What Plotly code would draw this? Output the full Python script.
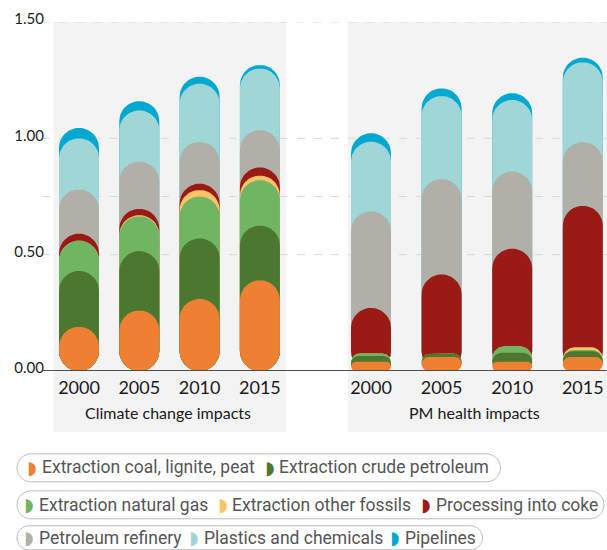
import numpy as np
import plotly.graph_objects as go

# ---------------- data ----------------
years = ["2000", "2005", "2010", "2015"]
series_names = [
    "Extraction coal, lignite, peat",
    "Extraction crude petroleum",
    "Extraction natural gas",
    "Extraction other fossils",
    "Processing into coke",
    "Petroleum refinery",
    "Plastics and chemicals",
    "Pipelines",
]
series_colors = ["#EE8033", "#4B772E", "#70B662", "#FAC466", "#9A1A16", "#B1B0A8", "#A1D6D7", "#01A9D2"]

# Climate change impacts (per-series contributions)
climate_coal = [0.19, 0.26, 0.31, 0.39]
climate_crude = [0.24, 0.255, 0.26, 0.235]
climate_gas = [0.13, 0.15, 0.18, 0.195]
climate_other = [0.0, 0.005, 0.028, 0.02]
climate_coke = [0.03, 0.027, 0.027, 0.035]
climate_refinery = [0.19, 0.203, 0.18, 0.16]
climate_plastics = [0.22, 0.22, 0.25, 0.265]
climate_pipelines = [0.045, 0.04, 0.03, 0.015]

# PM health impacts (per-series contributions)
pm_coal = [0.04, 0.06, 0.04, 0.06]
pm_crude = [0.024, 0.015, 0.038, 0.025]
pm_gas = [0.011, 0.0, 0.028, 0.005]
pm_other = [0.0, 0.0, 0.0, 0.012]
pm_coke = [0.196, 0.34, 0.42, 0.608]
pm_refinery = [0.415, 0.41, 0.332, 0.274]
pm_plastics = [0.30, 0.357, 0.307, 0.343]
pm_pipelines = [0.036, 0.033, 0.029, 0.02]

panel_titles = ["Climate change impacts", "PM health impacts"]
y_tick_values = [0, 0.5, 1.0, 1.5]
y_tick_labels = ["0.00", "0.50", "1.00", "1.50"]
grid_values = [0.5, 0.75, 1.0, 1.5]
legend_rows = [[0, 1], [2, 3, 4], [5, 6, 7]]

climate_values = [climate_coal, climate_crude, climate_gas, climate_other,
                  climate_coke, climate_refinery, climate_plastics, climate_pipelines]
pm_values = [pm_coal, pm_crude, pm_gas, pm_other,
             pm_coke, pm_refinery, pm_plastics, pm_pipelines]

# ---------------- layout geometry (pixels) ----------------
W, H = 607, 550
PLOT_TOP, PLOT_BOTTOM = 22.0, 371.5
Y_RANGE = [0, 1.5]
BAR_PX = 40.0  # bar width in pixels

panel_specs = [
    # (x axis, values, domain in px, x range)
    ("x", climate_values, (48.85, 290.05), [-0.5, 3.5]),
    ("x2", pm_values, (335.7, 607.0), [-0.5, 3.343]),
]

# legend layout: per row -> y centre, and per item -> (symbol centre x, text x) in pixels
legend_row_y = [468, 505.5, 538.5]
legend_item_x = [
    [(31, 39.5), (269, 276.5)],
    [(28, 36.5), (222.5, 230)],
    [(28.5, 36.5), (193.5, 202)],
]
legend_item_x[1].append((425, 433.5))
legend_item_x[2].append((394, 402.5))
legend_boxes = [(17, 454.5, 500.5, 482.5), (17, 491.5, 604, 519.5), (17, 526.5, 482.5, 550.5)]


def px(x):
    return x / W


def py(y):
    return (PLOT_BOTTOM - y) / (PLOT_BOTTOM - PLOT_TOP)


def pill_path(x0, y0, x1, y1):
    r = (y1 - y0) / 2.0
    k = 0.5523 * r
    ym = (y0 + y1) / 2.0

    def p(x, y):
        return f"{px(x):.5f},{py(y):.5f}"

    return (
        f"M {p(x0 + r, y0)} L {p(x1 - r, y0)} "
        f"C {p(x1 - r + k, y0)} {p(x1, ym - k)} {p(x1, ym)} "
        f"C {p(x1, ym + k)} {p(x1 - r + k, y1)} {p(x1 - r, y1)} "
        f"L {p(x0 + r, y1)} "
        f"C {p(x0 + r - k, y1)} {p(x0, ym + k)} {p(x0, ym)} "
        f"C {p(x0, ym - k)} {p(x0 + r - k, y0)} {p(x0 + r, y0)} Z"
    )


def rounded_bar_outline(xc, top, px_per_x, px_per_y, n=14):
    """Outline (data coords) of a bar from 0 to `top` with fully rounded ends."""
    half_w_px = BAR_PX / 2.0
    h_px = top * px_per_y
    r_px = min(half_w_px, h_px / 2.0)
    hw = half_w_px / px_per_x
    rx = r_px / px_per_x
    ry = r_px / px_per_y
    centers = [
        (xc + hw - rx, top - ry, 0.0),
        (xc - hw + rx, top - ry, 0.5 * np.pi),
        (xc - hw + rx, ry, np.pi),
        (xc + hw - rx, ry, 1.5 * np.pi),
    ]
    xs, ys = [], []
    for cx, cy, a0 in centers:
        t = np.linspace(a0, a0 + 0.5 * np.pi, n)
        xs.extend((cx + rx * np.cos(t)).tolist())
        ys.extend((cy + ry * np.sin(t)).tolist())
    xs.append(xs[0])
    ys.append(ys[0])
    return xs, ys


fig = go.Figure()

x_positions = np.arange(len(years))
px_per_y = (PLOT_BOTTOM - PLOT_TOP) / (Y_RANGE[1] - Y_RANGE[0])

for axis, values, (d0, d1), xr in panel_specs:
    px_per_x = (d1 - d0) / (xr[1] - xr[0])
    tops = np.cumsum(np.array(values, dtype=float), axis=0)
    # draw back (pipelines) to front (coal); each bar spans 0 .. cumulative top
    for i in reversed(range(len(series_names))):
        xs_all, ys_all = [], []
        for xc, top in zip(x_positions, tops[i]):
            if top <= 0:
                continue
            xs, ys = rounded_bar_outline(float(xc), float(top), px_per_x, px_per_y)
            xs_all += xs + [None]
            ys_all += ys + [None]
        fig.add_trace(go.Scatter(
            x=xs_all, y=ys_all, xaxis=axis, yaxis="y",
            mode="lines", fill="toself", fillcolor=series_colors[i],
            line=dict(width=0, color=series_colors[i]),
            name=series_names[i], showlegend=False, hoverinfo="skip",
        ))

shapes = []
# grey panels
for (x0, x1) in [(53.4, 285.7), (347.7, 607)]:
    shapes.append(dict(type="rect", xref="paper", yref="paper",
                       x0=px(x0), x1=px(x1), y0=py(432.7), y1=py(PLOT_TOP),
                       fillcolor="#F3F3F3", line=dict(width=0), layer="below"))
# dashed gridlines
for g in grid_values:
    shapes.append(dict(type="line", xref="paper", yref="y",
                       x0=px(42), x1=1, y0=g, y1=g,
                       line=dict(color="#D9D9D9", width=1, dash="8px,9px"), layer="below"))
# baseline
shapes.append(dict(type="line", xref="paper", yref="y", x0=px(43), x1=1, y0=0, y1=0,
                   line=dict(color="#4D4D4D", width=2), layer="above"))
# legend boxes
for (x0, y0, x1, y1) in legend_boxes:
    shapes.append(dict(type="path", xref="paper", yref="paper", path=pill_path(x0, y0, x1, y1),
                       line=dict(color="#BDBDBD", width=1), fillcolor="rgba(0,0,0,0)", layer="above"))

annotations = []
# panel titles
for title, xc in zip(panel_titles, [167.5, 474]):
    annotations.append(dict(text=title, x=px(xc), y=py(413), xref="paper", yref="paper",
                            xanchor="center", yanchor="middle", showarrow=False,
                            font=dict(family="Lato", size=16, color="#1A1A1A")))
# legend items (symbol + label)
for row, ly, xs in zip(legend_rows, legend_row_y, legend_item_x):
    for i, (sx, tx) in zip(row, xs):
        annotations.append(dict(text="◗", x=px(sx), y=py(ly), xref="paper", yref="paper",
                                xanchor="center", yanchor="middle", showarrow=False,
                                font=dict(family="DejaVu Sans", size=18, color=series_colors[i])))
        annotations.append(dict(text=series_names[i], x=px(tx), y=py(ly), xref="paper", yref="paper",
                                xanchor="left", yanchor="middle", showarrow=False,
                                font=dict(family="Roboto", size=17.5, color="#555555")))

axis_common = dict(anchor="y", showgrid=False, zeroline=False, showline=False, ticks="",
                   tickvals=list(x_positions), ticktext=years,
                   tickfont=dict(family="Lato", size=18, color="#1A1A1A"), ticklabelstandoff=4)

fig.update_layout(
    width=W, height=H,
    margin=dict(l=0, r=0, t=PLOT_TOP, b=H - PLOT_BOTTOM, pad=0),
    paper_bgcolor="white", plot_bgcolor="rgba(0,0,0,0)",
    showlegend=False,
    shapes=shapes,
    annotations=annotations,
    xaxis=dict(domain=[px(panel_specs[0][2][0]), px(panel_specs[0][2][1])],
               range=panel_specs[0][3], **axis_common),
    xaxis2=dict(domain=[px(panel_specs[1][2][0]), min(1.0, px(panel_specs[1][2][1]))],
                range=panel_specs[1][3], **axis_common),
    yaxis=dict(range=Y_RANGE, anchor="free", position=px(44), showgrid=False,
               zeroline=False, showline=False, ticks="",
               tickvals=y_tick_values, ticktext=y_tick_labels,
               tickfont=dict(family="Lato", size=15, color="#1A1A1A"), ticklabelshift=-3),
)

fig.write_html("out.html", config={"displayModeBar": False},
               post_script="document.body.style.margin='0px';")
